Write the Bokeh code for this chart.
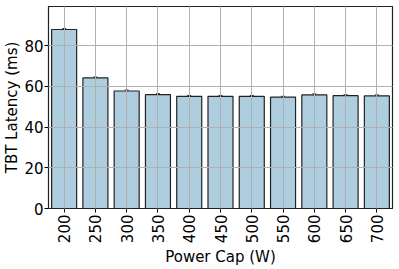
from bokeh.plotting import figure
from bokeh.models import ColumnDataSource, Range1d, FactorRange, Whisker
from bokeh.embed import file_html
from bokeh.resources import INLINE

power_caps = ["200", "250", "300", "350", "400", "450", "500", "550", "600", "650", "700"]
latency = [87.9, 64.1, 57.7, 55.9, 55.1, 55.1, 55.1, 54.7, 55.8, 55.4, 55.3]
error = [0.5, 0.5, 0.5, 0.5, 0.4, 0.4, 0.4, 0.4, 0.5, 0.5, 0.5]

src = ColumnDataSource(dict(
    x=power_caps, y=latency,
    lo=[v - e for v, e in zip(latency, error)],
    hi=[v + e for v, e in zip(latency, error)],
))

FONT = "DejaVu Sans"
p = figure(width=399, height=269, x_range=FactorRange(factors=power_caps),
           y_range=Range1d(0, 99.2), output_backend="svg", toolbar_location=None,
           min_border_left=41, min_border_right=7, min_border_top=6, min_border_bottom=53)

p.vbar(x="x", top="y", width=0.8, source=src, fill_color="#aecddf",
       line_color="#222222", line_width=1.2)

w = Whisker(base="x", lower="lo", upper="hi", source=src, line_color="#333333",
            line_width=1)
w.upper_head.size = 4
w.lower_head.size = 4
w.upper_head.line_color = "#333333"
w.lower_head.line_color = "#333333"
p.add_layout(w)

p.grid.grid_line_color = "#b0b0b0"
p.grid.grid_line_width = 1
p.grid.level = "overlay"

p.outline_line_color = "#222222"
p.outline_line_width = 1.2

p.yaxis.ticker = [0, 20, 40, 60, 80]
p.xaxis.major_label_orientation = 1.5708
for ax in (p.xaxis, p.yaxis):
    ax.major_label_text_font = FONT
    ax.major_label_text_font_size = "15px"
    ax.major_label_text_color = "#000000"
    ax.axis_label_text_font = FONT
    ax.axis_label_text_font_size = "15px"
    ax.axis_label_text_font_style = "normal"
    ax.axis_label_text_color = "#000000"
    ax.major_tick_out = 4
    ax.major_tick_in = 0
    ax.minor_tick_out = 0
    ax.minor_tick_in = 0
    ax.major_tick_line_color = "#000000"
    ax.axis_line_color = "#222222"
    ax.major_label_standoff = 2
    ax.axis_label_standoff = 2

p.yaxis.major_label_standoff = 1
p.yaxis.axis_label_standoff = 0

p.xaxis.axis_label = "Power Cap (W)"
p.yaxis.axis_label = "TBT Latency (ms)"

open("out.html", "w").write(file_html(p, INLINE))
